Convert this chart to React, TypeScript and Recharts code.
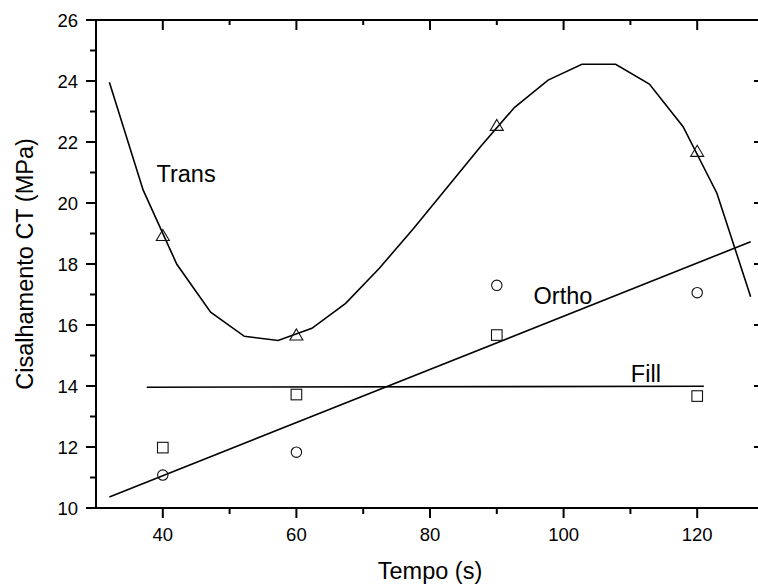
import { ComposedChart, Line, ReferenceDot, Scatter, XAxis, YAxis } from 'recharts';

// curva Trans (polinômio ajustado)
const transCurveX = [32, 37.05, 42.1, 47.16, 52.21, 57.26, 62.32, 67.37, 72.42, 77.47, 82.53, 87.58, 92.63, 97.68, 102.74, 107.79, 112.84, 117.89, 122.95, 128];
const transCurveY = [23.96, 20.43, 17.99, 16.42, 15.63, 15.49, 15.89, 16.71, 17.86, 19.15, 20.5, 21.85, 23.13, 24.03, 24.55, 24.55, 23.9, 22.5, 20.32, 16.93];

// pontos medidos
const tempos = [40, 60, 90, 120];
const transY = [18.95, 15.69, 22.56, 21.71];
const orthoY = [11.08, 11.83, 17.3, 17.06];
const fillY = [11.98, 13.72, 15.67, 13.67];

// retas ajustadas
const orthoFitX = [32, 128];
const orthoFitY = [10.36, 18.73];
const fillFitX = [37.6, 121];
const fillFitY = [13.96, 13.99];

// eixos
const xTicks = [40, 50, 60, 70, 80, 90, 100, 110, 120];
const xMajor = [40, 60, 80, 100, 120];
const yTicks = [10, 11, 12, 13, 14, 15, 16, 17, 18, 19, 20, 21, 22, 23, 24, 25, 26];
const yMajor = [10, 12, 14, 16, 18, 20, 22, 24, 26];

const toPoints = (xs: number[], ys: number[]) => xs.map((x, i) => ({ x, y: ys[i] }));

const transCurve = toPoints(transCurveX, transCurveY);
const transPts = toPoints(tempos, transY);
const orthoPts = toPoints(tempos, orthoY);
const fillPts = toPoints(tempos, fillY);
const orthoFit = toPoints(orthoFitX, orthoFitY);
const fillFit = toPoints(fillFitX, fillFitY);

const INK = '#000';
const TICK_FONT = 18.5;
const TITLE_FONT = 23.5;

function BottomTick({ x, y, payload }: any) {
  const major = xMajor.includes(payload.value);
  return (
    <g>
      <line x1={x} y1={y} x2={x} y2={y + (major ? 10 : 6)} stroke={INK} strokeWidth={2} />
      {major && (
        <text x={x} y={y + 33} textAnchor="middle" fontSize={TICK_FONT} fill={INK}>
          {payload.value}
        </text>
      )}
    </g>
  );
}

function TopTick({ x, y, payload }: any) {
  const major = xMajor.includes(payload.value);
  return <line x1={x} y1={y} x2={x} y2={y + (major ? 10 : 5)} stroke={INK} strokeWidth={2} />;
}

function LeftTick({ x, y, payload }: any) {
  const major = yMajor.includes(payload.value);
  return (
    <g>
      <line x1={x - (major ? 10 : 6)} y1={y} x2={x} y2={y} stroke={INK} strokeWidth={2} />
      {major && (
        <text x={x - 18} y={y} dy="0.36em" textAnchor="end" fontSize={TICK_FONT} fill={INK}>
          {payload.value}
        </text>
      )}
    </g>
  );
}

function RightTick({ x, y, payload }: any) {
  const major = yMajor.includes(payload.value);
  return <line x1={x - (major ? 10 : 5)} y1={y} x2={x} y2={y} stroke={INK} strokeWidth={2} />;
}

const Triangle = ({ cx, cy }: any) => (
  <path d={`M${cx},${cy - 5.5} L${cx + 6.5},${cy + 5.5} L${cx - 6.5},${cy + 5.5} Z`} fill="none" stroke="#111" strokeWidth={1.1} />
);
const Circle = ({ cx, cy }: any) => <circle cx={cx} cy={cy} r={5.2} fill="none" stroke="#111" strokeWidth={1.1} />;
const Square = ({ cx, cy }: any) => (
  <rect x={cx - 5.3} y={cy - 5.3} width={10.6} height={10.6} fill="none" stroke="#111" strokeWidth={1.1} />
);

// rótulos das curvas (coordenadas em unidades dos dados)
const curveLabels = [
  { text: 'Trans', x: 39.05, y: 20.7 },
  { text: 'Ortho', x: 95.5, y: 16.69 },
  { text: 'Fill', x: 110.07, y: 14.14 },
];

export default function App() {
  return (
    <div
      style={{
        position: 'fixed',
        left: 0,
        top: 0,
        width: 758,
        height: 588,
        overflow: 'hidden',
        background: '#fff',
        fontFamily: '"Liberation Sans", Arial, sans-serif',
      }}
    >
      <ComposedChart width={770} height={588} margin={{ top: 19, right: 5, bottom: 0, left: 0 }}>
        <XAxis
          dataKey="x"
          type="number"
          domain={[30, 130]}
          allowDataOverflow
          ticks={xTicks}
          interval={0}
          height={80}
          tickSize={0}
          tickMargin={0}
          tickLine={false}
          axisLine={{ stroke: INK, strokeWidth: 2 }}
          tick={<BottomTick />}
          label={{
            content: ({ viewBox }: any) => (
              <text x={viewBox.x + viewBox.width / 2} y={viewBox.y + 71} textAnchor="middle" fontSize={TITLE_FONT} fill={INK}>
                Tempo (s)
              </text>
            ),
          }}
        />
        <XAxis
          xAxisId="top"
          dataKey="x"
          type="number"
          orientation="top"
          domain={[30, 130]}
          allowDataOverflow
          ticks={xTicks}
          interval={0}
          height={1}
          tickSize={0}
          tickMargin={0}
          tickLine={false}
          axisLine={{ stroke: INK, strokeWidth: 2 }}
          tick={<TopTick />}
        />
        <YAxis
          type="number"
          domain={[10, 26]}
          allowDataOverflow
          ticks={yTicks}
          interval={0}
          width={96}
          tickSize={0}
          tickMargin={0}
          tickLine={false}
          axisLine={{ stroke: INK, strokeWidth: 2 }}
          tick={<LeftTick />}
          label={{
            content: ({ viewBox }: any) => (
              <text
                transform={`translate(${viewBox.x + 33}, ${viewBox.y + viewBox.height / 2}) rotate(-90)`}
                textAnchor="middle"
                fontSize={TITLE_FONT}
                fill={INK}
              >
                Cisalhamento CT (MPa)
              </text>
            ),
          }}
        />
        <YAxis
          yAxisId="right"
          type="number"
          orientation="right"
          domain={[10, 26]}
          allowDataOverflow
          ticks={yTicks}
          interval={0}
          width={1}
          tickSize={0}
          tickMargin={0}
          tickLine={false}
          axisLine={{ stroke: INK, strokeWidth: 2 }}
          tick={<RightTick />}
        />

        <Line data={transCurve} dataKey="y" type="linear" stroke={INK} strokeWidth={1.6} dot={false} activeDot={false} isAnimationActive={false} />
        <Line data={orthoFit} dataKey="y" type="linear" stroke={INK} strokeWidth={1.6} dot={false} activeDot={false} isAnimationActive={false} />
        <Line data={fillFit} dataKey="y" type="linear" stroke={INK} strokeWidth={1.6} dot={false} activeDot={false} isAnimationActive={false} />

        <Scatter data={transPts} dataKey="y" shape={<Triangle />} isAnimationActive={false} />
        <Scatter data={orthoPts} dataKey="y" shape={<Circle />} isAnimationActive={false} />
        <Scatter data={fillPts} dataKey="y" shape={<Square />} isAnimationActive={false} />

        {curveLabels.map((l) => (
          <ReferenceDot
            key={l.text}
            x={l.x}
            y={l.y}
            r={0}
            ifOverflow="visible"
            shape={(p: any) => (
              <text x={p.cx} y={p.cy} fontSize={TITLE_FONT} fill={INK}>
                {l.text}
              </text>
            )}
          />
        ))}
      </ComposedChart>
    </div>
  );
}
